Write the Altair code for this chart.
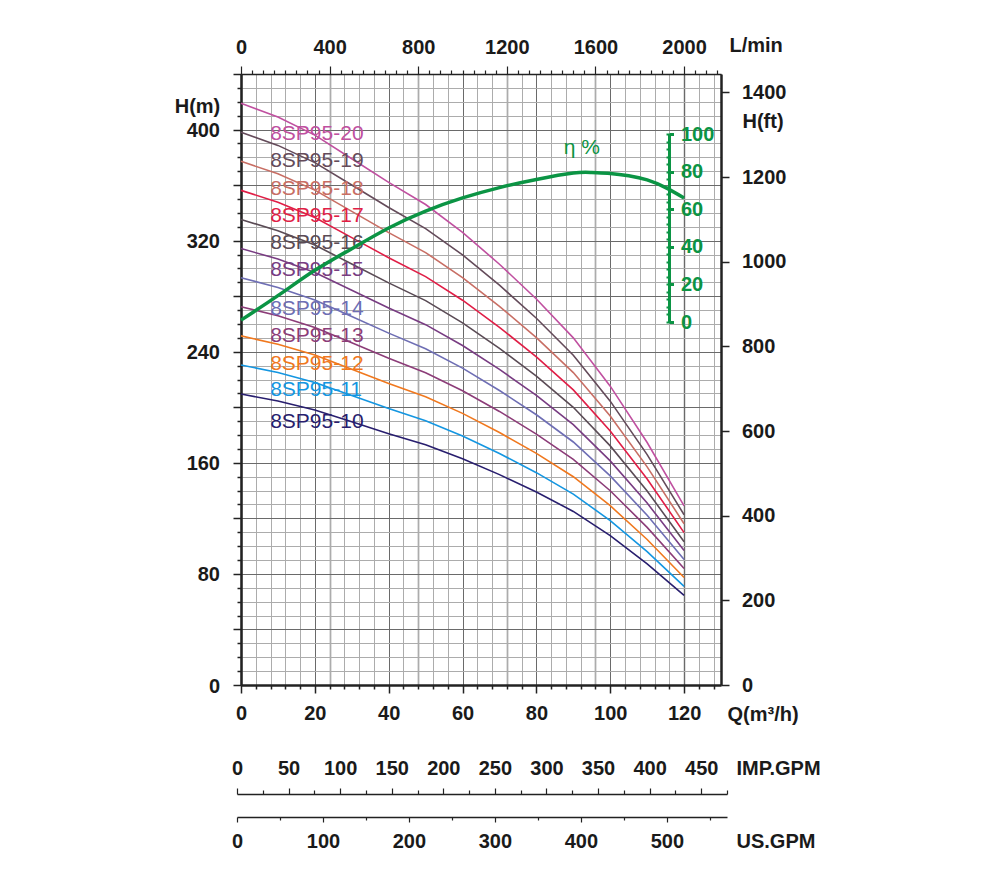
import altair as alt
import pandas as pd

FONT = "Liberation Sans"
GREEN = "#0b9444"
INK = "#1a1a1a"

# ---------------- data ----------------
q_points = [0, 10, 20, 30, 40, 50, 60, 70, 80, 90, 100, 110, 120]

models = ["8SP95-10", "8SP95-11", "8SP95-12", "8SP95-13", "8SP95-14", "8SP95-15",
          "8SP95-16", "8SP95-17", "8SP95-18", "8SP95-19", "8SP95-20"]

h_10 = [209.5, 204.5, 198.0, 189.5, 181.0, 173.0, 163.0, 151.5, 139.0, 125.0, 107.6, 87.3, 64.5]
h_11 = [230.5, 225.0, 217.8, 208.5, 199.1, 190.3, 179.3, 166.7, 152.9, 137.5, 118.4, 96.0, 71.0]
h_12 = [251.4, 245.4, 237.6, 227.4, 217.2, 207.6, 195.6, 181.8, 166.8, 150.0, 129.1, 104.8, 77.4]
h_13 = [272.4, 265.9, 257.4, 246.4, 235.3, 224.9, 211.9, 197.0, 180.7, 162.5, 139.9, 113.5, 83.9]
h_14 = [293.3, 286.3, 277.2, 265.3, 253.4, 242.2, 228.2, 212.1, 194.6, 175.0, 150.6, 122.2, 90.3]
h_15 = [314.3, 306.8, 297.0, 284.3, 271.5, 259.5, 244.5, 227.3, 208.5, 187.5, 161.4, 131.0, 96.8]
h_16 = [335.2, 327.2, 316.8, 303.2, 289.6, 276.8, 260.8, 242.4, 222.4, 200.0, 172.2, 139.7, 103.2]
h_17 = [356.2, 347.7, 336.6, 322.2, 307.7, 294.1, 277.1, 257.6, 236.3, 212.5, 182.9, 148.4, 109.7]
h_18 = [377.1, 368.1, 356.4, 341.1, 325.8, 311.4, 293.4, 272.7, 250.2, 225.0, 193.7, 157.1, 116.1]
h_19 = [398.1, 388.6, 376.2, 360.1, 343.9, 328.7, 309.7, 287.9, 264.1, 237.5, 204.4, 165.9, 122.6]
h_20 = [419.0, 409.0, 396.0, 379.0, 362.0, 346.0, 326.0, 303.0, 278.0, 250.0, 215.2, 174.6, 129.0]

curve_colors = ["#281e6e", "#1496e1", "#f0781e", "#8c3c78", "#6e6eb4", "#783c82",
                "#5a4b55", "#e01e46", "#c86e64", "#644b5a", "#c050a0"]

label_q = [7.9, 7.9, 7.9, 7.9, 7.9, 7.9, 7.9, 7.9, 7.9, 7.9, 7.9]
label_h = [185.0, 207.8, 227.0, 246.7, 266.7, 294.3, 314.2, 333.5, 353.2, 373.1, 392.8]

eta_q = [0, 10, 20, 30, 40, 50, 60, 70, 80, 90, 95, 100, 105, 110, 115, 120]
eta_v = [1, 14, 27.5, 39, 50, 59, 66, 71.5, 75.8, 79.2, 79.5, 79.0, 77.8, 75.6, 71.5, 66]

eta_label_q = [87.4]
eta_label_v = [92.5]
eta_label_text = ["η %"]

# ---------------- tables ----------------
series = [h_10, h_11, h_12, h_13, h_14, h_15, h_16, h_17, h_18, h_19, h_20]
rows = []
for m, hs in zip(models, series):
    for q, h in zip(q_points, hs):
        rows.append({"model": m, "Q": q, "H": h})
curves_df = pd.DataFrame(rows)
labels_df = pd.DataFrame({"model": models, "Q": label_q, "H": label_h})
eta_df = pd.DataFrame({"Q": eta_q, "eta": eta_v})
eta_lab_df = pd.DataFrame({"Q": eta_label_q, "eta": eta_label_v, "t": eta_label_text})
dummy = pd.DataFrame({"v": [0]})


def cond(test, a, b):
    return {"condition": {"test": test, "value": a}, "value": b}


q_scale = alt.Scale(domain=[0, 130], nice=False, zero=False)
m_scale = alt.Scale(domain=[0, 440], nice=False)
eta_scale = alt.Scale(domain=[0, 100], range=[248, 60], nice=False)
color_scale = alt.Scale(domain=models, range=curve_colors)

# ---------------- axes ----------------
q_axis = alt.Axis(
    values=list(range(0, 129, 4)),
    labelExpr="datum.value % 20 === 0 ? datum.label : ''",
    tickSize=cond("datum.value % 20 === 0", 8, 4),
    grid=True,
    gridColor=cond("datum.value % 20 === 0", "#6a6a6a", "#acacac"),
    gridWidth=1,
    labelPadding=10, labelFlush=False, labelOverlap=False,
    domainWidth=2.5, tickWidth=1.5,
    title="Q(m³/h)", titleX=486, titleY=29, titleAlign="left",
    titleBaseline="middle", titleAngle=0,
)
m_axis = alt.Axis(
    values=list(range(0, 441, 10)),
    labelExpr="datum.value % 80 === 0 ? datum.label : ''",
    tickSize=cond("datum.value % 40 === 0", 8, 4),
    grid=True,
    gridColor=cond("datum.value % 40 === 0", "#6a6a6a", "#acacac"),
    gridWidth=1,
    labelPadding=13.5, labelOverlap=False, labelOffset=1,
    domainWidth=2.5, tickWidth=1.5,
    title="H(m)", titleX=-44, titleY=32, titleAlign="center",
    titleBaseline="middle", titleAngle=0,
)
lmin_axis = alt.Axis(
    orient="top", format="d",
    values=list(range(0, 2151, 50)),
    labelExpr="datum.value % 400 === 0 ? datum.label : ''",
    tickSize=cond("datum.value % 400 === 0", 8, 4),
    grid=True,
    gridColor="#e0e0e0",
    gridOpacity=cond("datum.value % 400 === 0", 1, 0),
    gridWidth=3,
    labelPadding=8.5, labelFlush=False, labelOverlap=False,
    domainWidth=1.5, tickWidth=1.2,
    title="L/min", titleX=488, titleY=-29, titleAlign="left",
    titleBaseline="middle", titleAngle=0,
)
ft_axis = alt.Axis(
    orient="right", format="d",
    values=list(range(0, 1401, 200)),
    tickSize=8, labelPadding=12.5, labelOverlap=False,
    domainWidth=2.5, tickWidth=1.5, grid=False,
    title="H(ft)", titleX=21, titleY=47, titleAlign="left",
    titleBaseline="middle", titleAngle=0,
)
eta_axis = alt.Axis(
    orient="right", offset=-52,
    values=[0, 20, 40, 60, 80, 100],
    tickSize=4.5, tickWidth=3, tickColor=GREEN,
    domainColor=GREEN, domainWidth=3,
    labelColor=GREEN, labelFontSize=20, labelPadding=7,
    labelOverlap=False, grid=False, zindex=1, title="",
)
eta_minor_axis = alt.Axis(
    orient="left", offset=-428,
    values=list(range(0, 101, 4)),
    tickSize=3, tickWidth=2, tickColor=GREEN,
    domainColor=GREEN, domainWidth=3,
    labels=False, grid=False, zindex=1, title="",
)
imp_axis = alt.Axis(
    orient="top", offset=-720,
    values=list(range(0, 476, 25)),
    labelExpr="datum.value % 50 === 0 ? datum.label : ''",
    tickSize=cond("datum.value % 50 === 0", 6, 4),
    labelPadding=9.5, labelFlush=False, labelOverlap=False,
    domainWidth=1.5, tickWidth=1.2, grid=False,
    title="IMP.GPM", titleX=495, titleY=-26, titleAlign="left",
    titleBaseline="middle", titleAngle=0,
)
us_axis = alt.Axis(
    orient="bottom", offset=132,
    values=list(range(0, 571, 50)),
    labelExpr="datum.value % 100 === 0 ? datum.label : ''",
    tickSize=cond("datum.value % 100 === 0", 5, 3),
    labelPadding=9, labelFlush=False, labelOverlap=False,
    domainWidth=1.5, tickWidth=1.2, grid=False,
    title="US.GPM", titleX=495, titleY=24, titleAlign="left",
    titleBaseline="middle", titleAngle=0,
)

# ---------------- layers ----------------
lines = alt.Chart(curves_df).mark_line(strokeWidth=1.6).encode(
    x=alt.X("Q:Q", scale=q_scale, axis=q_axis),
    y=alt.Y("H:Q", scale=m_scale, axis=m_axis),
    color=alt.Color("model:N", scale=color_scale, legend=None),
    order="Q:Q",
)
texts = alt.Chart(labels_df).mark_text(
    align="left", baseline="alphabetic", font=FONT, fontSize=21
).encode(
    x=alt.X("Q:Q", scale=q_scale, axis=q_axis),
    y=alt.Y("H:Q", scale=m_scale, axis=m_axis),
    text="model:N",
    color=alt.Color("model:N", scale=color_scale, legend=None),
)
main = alt.layer(lines, texts)

lmin = alt.Chart(dummy).mark_point(opacity=0).encode(
    x=alt.X("v:Q", scale=alt.Scale(domain=[0, 130 * 1000 / 60], nice=False), axis=lmin_axis)
)
ft = alt.Chart(dummy).mark_point(opacity=0).encode(
    y=alt.Y("v:Q", scale=alt.Scale(domain=[0, 440 * 3.28084], nice=False), axis=ft_axis)
)
eta_line = alt.Chart(eta_df).mark_line(
    color=GREEN, strokeWidth=3.5, interpolate="natural"
).encode(
    x=alt.X("Q:Q", scale=q_scale, axis=None),
    y=alt.Y("eta:Q", scale=eta_scale, axis=eta_axis),
)
eta_text = alt.Chart(eta_lab_df).mark_text(
    align="left", baseline="middle", font=FONT, fontSize=21, color=GREEN
).encode(
    x=alt.X("Q:Q", scale=q_scale, axis=None),
    y=alt.Y("eta:Q", scale=eta_scale, axis=eta_minor_axis),
    text="t:N",
)
imp = alt.Chart(dummy).mark_point(opacity=0).encode(
    x=alt.X("v:Q", scale=alt.Scale(domain=[0, 475], range=[-4, 486], nice=False), axis=imp_axis)
)
us = alt.Chart(dummy).mark_point(opacity=0).encode(
    x=alt.X("v:Q", scale=alt.Scale(domain=[0, 570], range=[-4, 486], nice=False), axis=us_axis)
)

chart = alt.layer(lmin, main, ft, eta_line, eta_text, imp, us).resolve_scale(
    x="independent", y="independent"
).properties(
    width=480, height=611,
    padding={"left": 233, "top": 66, "right": 240, "bottom": 170},
    autosize=alt.AutoSizeParams(type="none"),
).configure_view(stroke=None).configure_axis(
    labelFont=FONT, labelFontSize=20, labelFontWeight="bold", labelColor=INK,
    titleFont=FONT, titleFontSize=20, titleFontWeight="bold", titleColor=INK,
    domainColor="#222222", tickColor="#222222",
)

chart.save("out.html", embed_options={"renderer": "svg", "actions": False})
